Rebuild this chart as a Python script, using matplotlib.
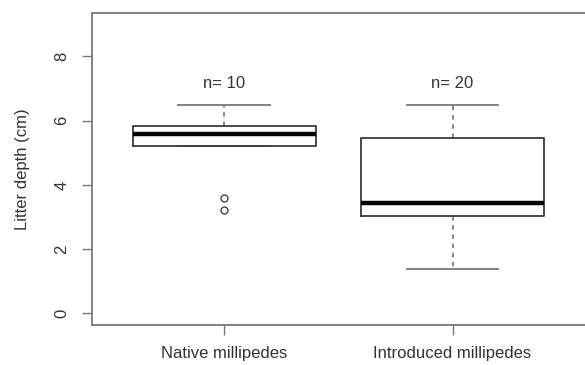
import matplotlib
matplotlib.use("Agg")
import matplotlib.pyplot as plt

plt.rcParams['font.family'] = ['Liberation Sans', 'DejaVu Sans']

# litter depth summaries per group
groups = ['Native millipedes', 'Introduced millipedes']
n_obs = [10, 20]
q1 = [5.21, 3.02]
med = [5.58, 3.43]
q3 = [5.82, 5.46]
whisk_lo = [5.21, 1.37]
whisk_hi = [6.49, 6.49]
outliers = [[3.6, 3.22], []]

ink = '#333333'
frame = '#777777'

stats = []
for i in range(len(groups)):
    stats.append(dict(med=med[i], q1=q1[i], q3=q3[i],
                      whislo=whisk_lo[i], whishi=whisk_hi[i],
                      fliers=outliers[i], label=groups[i]))

fig = plt.figure(figsize=(5.85, 3.65), dpi=100)
ax = fig.add_axes([91.7 / 585, 40 / 365, 1 - 91.7 / 585, (325 - 12.7) / 365])

ax.bxp(stats, positions=[1, 2], widths=0.8, capwidths=0.4,
       boxprops=dict(color='#3a3a3a', linewidth=1.3, zorder=3),
       medianprops=dict(color='black', linewidth=3.2, solid_capstyle='butt', zorder=4),
       whiskerprops=dict(color='#666666', linewidth=1.1, linestyle=(0, (3, 3)), zorder=2),
       capprops=dict(color='#777777', linewidth=1.3, zorder=2),
       flierprops=dict(marker='o', markersize=5, markerfacecolor='none',
                       markeredgecolor='#444444', markeredgewidth=1.0))

for i, n in enumerate(n_obs):
    ax.text(i + 1, 7.15, 'n= {}'.format(n), ha='center', va='center',
            fontsize=12, color=ink)

ax.set_xlim(0.42, 2.58)
ax.set_ylim(-0.36, 9.36)
ax.set_yticks([0, 2, 4, 6, 8])
ax.set_xticks([1, 2])
ax.set_xticklabels(groups)
for lab in ax.get_yticklabels():
    lab.set_rotation(90)
    lab.set_va('center')
ax.tick_params(axis='both', length=7.2, width=1.0, color=frame,
               labelsize=12, labelcolor=ink)
ax.tick_params(axis='y', pad=9)
ax.tick_params(axis='x', pad=8)
ax.set_ylabel('Litter depth (cm)', fontsize=12, color=ink, va='center')
ax.yaxis.set_label_coords(-0.141, 0.5)

for side in ['left', 'bottom', 'top']:
    ax.spines[side].set_color(frame)
    ax.spines[side].set_linewidth(1.3)
ax.spines['right'].set_visible(False)

fig.savefig('out.png', dpi=100)
